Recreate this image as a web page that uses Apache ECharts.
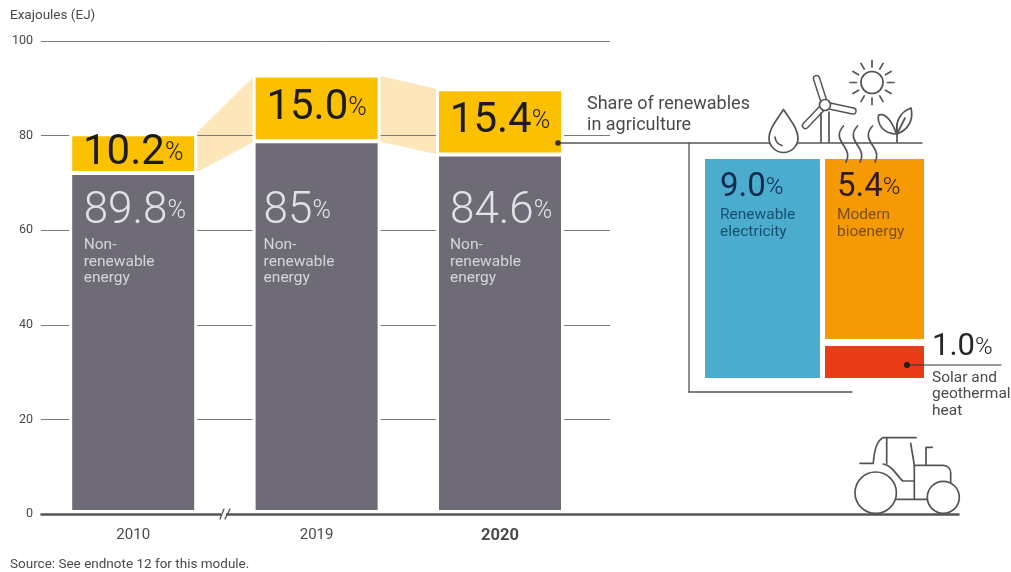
<!DOCTYPE html>
<html>
<head>
<meta charset="utf-8">
<style>html,body{margin:0;padding:0;background:#fff}#chart{width:1011px;height:572px}</style>
<script src="https://cdn.jsdelivr.net/npm/echarts@6/dist/echarts.min.js"></script>
</head>
<body>
<div id="chart"></div>
<script>
// Energy use in agriculture, in exajoules
const years = ['2010', '2019', '2020', '', ''];
const nonRenewableEJ = [72.1, 78.8, 76.0];
const renewableEJ = [8.2, 13.9, 13.8];
const nonRenewableShare = ['89.8', '85', '84.6'];
const renewableShare = ['10.2', '15.0', '15.4'];
const yTicks = [0, 100];
const nonRenewableCaption = 'Non-\nrenewable\nenergy';
const captionAnchorEJ = 69.1;
const captionInsets = [-49.5, -53, -50];

// Breakdown of the 2020 renewable share
const electricityShare = 9.0;
const bioenergyShare = 5.4;
const heatShare = 1.0;

const FONT = 'Roboto, sans-serif';
const INK = '#4a4a4e';
const GREY = '#6e6b76';
const YELLOW = '#fbc000';
const BAR_PX = 124;

const numberStyles = (color, weight, numberSize, pctSize, lineHeight, capColor) => ({
  n: { fontFamily: FONT, fontSize: numberSize, fontWeight: weight, color, lineHeight },
  p: { fontFamily: FONT, fontSize: pctSize, fontWeight: 300, color, lineHeight },
  s: { fontFamily: FONT, fontSize: 15.5, color: capColor, lineHeight: 16.5 }
});

const panelAxes = (gridIndex, max) => ({
  x: { gridIndex, type: 'category', data: [''], show: false },
  y: { gridIndex, type: 'value', min: 0, max, show: false }
});
const panels = [
  panelAxes(2, electricityShare),
  panelAxes(3, bioenergyShare),
  panelAxes(4, heatShare)
];

// Callout lines, the time-axis break and the small pictograms
function renderDecorations() {
  const els = [];
  const stroke = { stroke: '#545458', fill: 'none', lineWidth: 1.7, lineCap: 'round', lineJoin: 'round' };
  const line = (x1, y1, x2, y2, style) => els.push({ type: 'line',
    shape: { x1, y1, x2, y2 }, style: Object.assign({}, stroke, style) });
  const path = (d, style) => els.push({ type: 'path',
    shape: { pathData: d }, style: Object.assign({}, stroke, style) });
  const circle = (cx, cy, r, style) => els.push({ type: 'circle',
    shape: { cx, cy, r }, style: Object.assign({}, stroke, style) });

  // Frame linking the 2020 bar to the breakdown
  line(558, 143, 922, 143, { lineWidth: 1.3 });
  line(689, 143, 689, 392, { lineWidth: 1.3 });
  line(689, 392, 852, 392, { lineWidth: 1.3 });
  circle(558, 143, 2.8, { fill: '#33302a', stroke: 'none' });
  els.push({ type: 'text', x: 587, y: 93.5,
    style: { text: 'Share of renewables\nin agriculture', font: '18px ' + FONT, lineHeight: 21, fill: INK } });

  // Leader for the heat segment
  line(907, 365, 1001, 365, { lineWidth: 1.2, stroke: '#333' });
  circle(907, 365, 3, { fill: '#1c1c1c', stroke: 'none' });

  // Break in the time axis
  els.push({ type: 'rect', shape: { x: 221, y: 511, width: 5, height: 6 }, style: { fill: '#fff' } });
  line(220, 519, 224, 509, { lineWidth: 1.3 });
  line(225, 519, 230, 509, { lineWidth: 1.3 });

  // Water drop
  path('M783.5 109.5C776 121 769 129 769 138A14.5 14.5 0 0 0 798 138C798 129 791 121 783.5 109.5Z', { fill: '#fff' });
  path('M775 137C775.5 141 778 144.5 782 145.5');

  // Wind turbine
  [[825, 105, 816.5, 78.5], [825, 105, 853, 111], [825, 105, 805.5, 125.5]].forEach(b => {
    line(b[0], b[1], b[2], b[3], { lineWidth: 7.5, stroke: '#545458' });
    line(b[0], b[1], b[2], b[3], { lineWidth: 4.6, stroke: '#fff' });
  });
  circle(825, 105, 5.5, { fill: '#fff' });
  line(821, 113, 821, 142);
  line(829, 112, 829, 142);

  // Sun
  circle(872, 82.5, 11);
  for (let k = 0; k < 12; k++) {
    const a = k * Math.PI / 6;
    line(872 + 15.5 * Math.cos(a), 82.5 + 15.5 * Math.sin(a), 872 + 22 * Math.cos(a), 82.5 + 22 * Math.sin(a));
  }

  // Rising heat
  [0, 14, 29].forEach(dx => {
    path('M' + (843.5 + dx) + ' 126C' + (836 + dx) + ' 134 ' + (840 + dx) + ' 140 ' + (844 + dx) + ' 146C' +
      (848 + dx) + ' 152 ' + (849 + dx) + ' 156 ' + (846 + dx) + ' 162');
  });

  // Seedling
  path('M896.5 134C891 119 885 113 878.5 115C877 125 884 134 896.5 134Z');
  path('M897 134C895 122 900 112 911 108C914 120 908 130 897 134Z');
  path('M897 134L905 118');
  line(897, 142, 897, 124);

  // Tractor
  circle(875.7, 492.7, 20.7);
  circle(943.3, 497.3, 16);
  path('M873.3 463.3C874 452 876 441 883 437.7L916 437.7');
  line(860, 463.3, 872.7, 463.3);
  line(886.7, 438.3, 886.7, 463.3);
  path('M883.3 464C892 465 897 476 902.7 481L913.3 481');
  path('M910.7 443.3L914.3 465L914.3 498.3');
  path('M914.3 465.3L943.3 465.3C948 465.3 950.7 469 950.7 473.3L950.7 483');
  path('M926 465L926 447.3L932.3 447.3');
  line(896.7, 499.3, 927.3, 499.3);
  return els;
}

const option = {
  animation: false,
  backgroundColor: '#fff',
  title: [
    { text: 'Source: See endnote 12 for this module.', left: 10, top: 557.5, padding: 0,
      textStyle: { fontFamily: FONT, fontSize: 13.5, fontWeight: 'normal', color: INK } }
  ],
  grid: [
    { left: 41.5, width: 917, top: 41, bottom: 58 },
    { left: 41, width: 569, top: 41, bottom: 58 },
    { left: 705, width: 115, top: 159, height: 219 },
    { left: 825, width: 99, top: 159, height: 180 },
    { left: 825, width: 99, top: 346, height: 32 }
  ],
  xAxis: [
    { gridIndex: 0, type: 'category', data: years, z: 6,
      axisTick: { show: false },
      axisLine: { lineStyle: { color: '#56565a', width: 2.5 } },
      axisLabel: {
        margin: 13.5, fontFamily: FONT, fontSize: 15, color: INK,
        interval: 0,
        formatter: v => (v === '2020' ? '{b|' + v + '}' : v),
        rich: { b: { fontFamily: FONT, fontSize: 16.5, fontWeight: 'bold', color: INK } }
      } },
    { gridIndex: 1, type: 'value', min: 0, max: 1, show: false },
    ...panels.map(p => p.x)
  ],
  yAxis: [
    { gridIndex: 0, type: 'value', min: yTicks[0], max: yTicks[1], interval: 20, show: false },
    { gridIndex: 1, type: 'value', min: yTicks[0], max: yTicks[1], interval: 20, z: 2,
      name: 'Exajoules (EJ)', nameLocation: 'end', nameGap: 18,
      nameTextStyle: { fontFamily: FONT, fontSize: 13.5, color: INK, align: 'left', padding: [0, 0, 0, -31] },
      axisLine: { show: false }, axisTick: { show: false },
      axisLabel: { margin: 8, fontFamily: FONT, fontSize: 12.5, color: INK },
      splitLine: { lineStyle: { color: '#7b7b7e', width: 1 } } },
    ...panels.map(p => p.y)
  ],
  series: [
    // Pale bands joining the renewable segments of neighbouring bars
    { type: 'custom', xAxisIndex: 0, yAxisIndex: 0, z: 1, silent: true,
      data: [[0], [1]],
      renderItem(params, api) {
        const i = api.value(0);
        const a = api.coord([i, nonRenewableEJ[i] + renewableEJ[i]]);
        const b = api.coord([i, nonRenewableEJ[i]]);
        const c = api.coord([i + 1, nonRenewableEJ[i + 1] + renewableEJ[i + 1]]);
        const d = api.coord([i + 1, nonRenewableEJ[i + 1]]);
        const h = BAR_PX / 2;
        return { type: 'polygon',
          shape: { points: [[a[0] + h, a[1]], [c[0] - h, c[1]], [d[0] - h, d[1]], [b[0] + h, b[1]]] },
          style: { fill: '#fde7ba' } };
      } },
    // White margin that interrupts the gridlines around each bar
    { type: 'custom', xAxisIndex: 0, yAxisIndex: 0, z: 3, silent: true,
      data: [[0], [1], [2]],
      renderItem(params, api) {
        const i = api.value(0);
        const top = api.coord([i, nonRenewableEJ[i] + renewableEJ[i]]);
        const base = api.coord([i, 0]);
        const w = BAR_PX + 4;
        return { type: 'rect', shape: { x: top[0] - w / 2, y: top[1] - 2, width: w, height: base[1] - top[1] + 2 },
          style: { fill: '#fff' } };
      } },
    { type: 'bar', xAxisIndex: 0, yAxisIndex: 0, stack: 'energy', z: 4, barWidth: BAR_PX + 2,
      data: nonRenewableEJ,
      itemStyle: { color: GREY, borderColor: '#fff', borderWidth: 2 } },
    { type: 'bar', xAxisIndex: 0, yAxisIndex: 0, stack: 'energy', z: 4, barWidth: BAR_PX + 2,
      data: renewableEJ,
      itemStyle: { color: YELLOW, borderColor: '#fff', borderWidth: 2 },
      label: { show: true, position: 'inside',
        formatter: p => '{n|' + renewableShare[p.dataIndex] + '}{p|%}',
        rich: numberStyles('#1e1c1a', 400, 42, 25, 46, '#1e1c1a') } },
    // White sliver between the bar feet and the baseline
    { type: 'custom', xAxisIndex: 0, yAxisIndex: 0, z: 5, silent: true,
      data: [[0], [1], [2]],
      renderItem(params, api) {
        const base = api.coord([api.value(0), 0]);
        return { type: 'rect', shape: { x: base[0] - BAR_PX / 2 - 1, y: base[1] - 4, width: BAR_PX + 2, height: 4 },
          style: { fill: '#fff' } };
      } },
    // Captions in the grey segments sit on one common level
    { type: 'scatter', xAxisIndex: 0, yAxisIndex: 0, z: 7, silent: true,
      symbolSize: 0,
      data: nonRenewableShare.map((s, i) => ({
        value: [i, captionAnchorEJ],
        label: { position: [captionInsets[i], 0] }
      })),
      label: { show: true, align: 'left', verticalAlign: 'top',
        formatter: p => '{n|' + nonRenewableShare[p.dataIndex] + '}{p|%}\n{s|' +
          nonRenewableCaption.split('\n').join('}\n{s|') + '}',
        rich: numberStyles('#fff', 300, 44, 25, 50, '#eeedf0') } },
    // Renewable breakdown
    { type: 'bar', xAxisIndex: 2, yAxisIndex: 2, barWidth: '100%', data: [electricityShare],
      itemStyle: { color: '#4bacce' },
      label: { show: true, position: [15, 10], align: 'left', verticalAlign: 'top',
        formatter: () => '{n|' + electricityShare.toFixed(1) + '}{p|%}\n{s|Renewable}\n{s|electricity}',
        rich: numberStyles('#0e2a4d', 400, 33, 24, 38, '#16506f') } },
    { type: 'bar', xAxisIndex: 3, yAxisIndex: 3, barWidth: '100%', data: [bioenergyShare],
      itemStyle: { color: '#f59a05' },
      label: { show: true, position: [12, 10], align: 'left', verticalAlign: 'top',
        formatter: () => '{n|' + bioenergyShare.toFixed(1) + '}{p|%}\n{s|Modern}\n{s|bioenergy}',
        rich: numberStyles('#2e1a20', 400, 33, 24, 38, '#7a4d14') } },
    { type: 'bar', xAxisIndex: 4, yAxisIndex: 4, barWidth: '100%', data: [heatShare],
      itemStyle: { color: '#ea3b18' },
      label: { show: true, position: [107, -20.5], align: 'left', verticalAlign: 'top',
        formatter: () => '{n|' + heatShare.toFixed(1) + '}{p|%}\n{s|Solar and}\n{s|geothermal}\n{s|heat}',
        rich: numberStyles('#26262a', 400, 31, 24, 44, INK) } },
    { type: 'custom', coordinateSystem: 'none', z: 20, silent: true,
      data: [[0]],
      renderItem: () => ({ type: 'group', children: renderDecorations() }) }
  ]
};

const chart = echarts.init(document.getElementById('chart'), null, { renderer: 'canvas' });
chart.setOption(option);
</script>
</body>
</html>
